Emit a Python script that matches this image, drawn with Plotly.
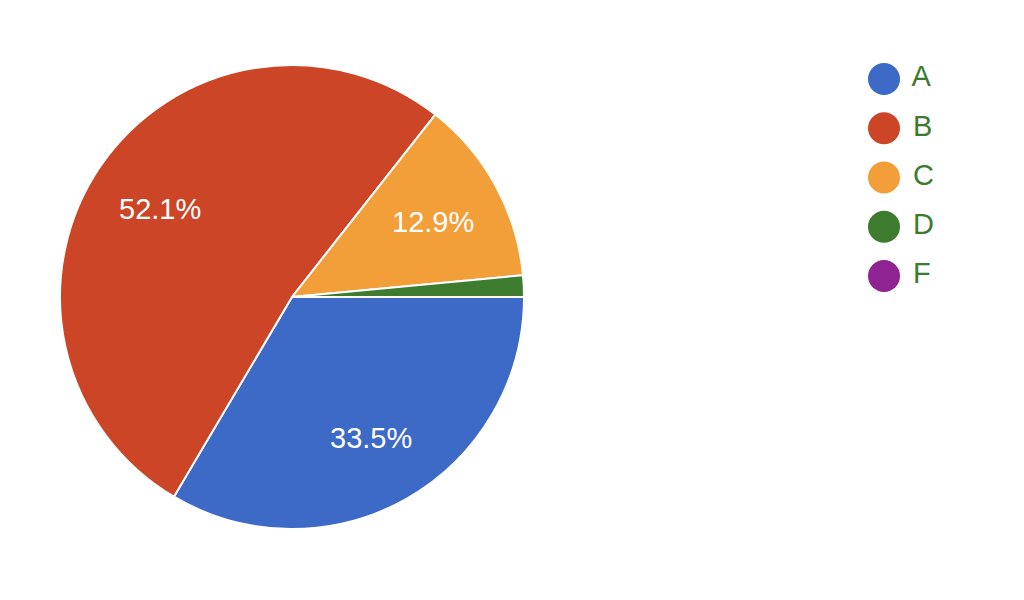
import math
import plotly.graph_objects as go

categories = ["A", "B", "C", "D", "F"]
values = [33.5, 52.1, 12.9, 1.5, 0.0]
colors = ["#3d69c7", "#cb4526", "#f29e39", "#3d7b2f", "#8e2391"]
legend_text_color = "#3d7b2f"

W, H = 1024, 600
# page body margin offset (8px) compensated in layout positions
OFF = 8
cx_px, cy_px, r_px = 292 - OFF, 297 - OFF, 232

pie_dom_x = [(cx_px - r_px) / W, (cx_px + r_px) / W]
pie_dom_y = [1 - (cy_px + r_px) / H, 1 - (cy_px - r_px) / H]

fig = go.Figure()

fig.add_trace(go.Pie(
    labels=categories,
    values=values,
    textinfo="none",
    marker=dict(colors=colors, line=dict(color="white", width=2)),
    sort=False,
    direction="clockwise",
    rotation=90,
    showlegend=False,
    hoverinfo="label+percent",
    domain=dict(x=pie_dom_x, y=pie_dom_y),
))

# percentage labels placed along each slice's mid-angle
total = sum(values)
cum = 0.0
label_frac = 0.69
for cat, v in zip(categories, values):
    mid = (cum + v / 2) / total * 2 * math.pi  # clockwise from 3 o'clock
    cum += v
    pct = v / total * 100
    if pct < 5:
        continue
    px = cx_px + label_frac * r_px * math.cos(mid)
    py = cy_px + label_frac * r_px * math.sin(mid)
    fig.add_annotation(
        x=px / W, y=1 - py / H, xref="paper", yref="paper",
        text=f"{pct:.1f}%", showarrow=False,
        xanchor="center", yanchor="middle", yshift=-2,
        font=dict(family="Liberation Sans, Arial", size=29, color="white"),
    )

# Legend drawn as a scatter of circles with labels
fig.add_trace(go.Scatter(
    x=[0] * len(categories),
    y=list(range(len(categories))),
    mode="markers+text",
    text=[" " + c for c in categories],
    textposition="middle right",
    textfont=dict(family="Liberation Sans, Arial", size=29, color=legend_text_color),
    marker=dict(size=32, color=colors, line=dict(width=0)),
    showlegend=False,
    hoverinfo="skip",
    cliponaxis=False,
))

leg_x0 = 884 - OFF
leg_y0 = 79 - OFF
leg_step = 49.25
fig.update_layout(
    width=W,
    height=H,
    margin=dict(l=0, r=0, t=0, b=0),
    paper_bgcolor="white",
    plot_bgcolor="rgba(0,0,0,0)",
    xaxis=dict(domain=[0, 1], range=[-leg_x0, W - leg_x0], visible=False, fixedrange=True),
    yaxis=dict(domain=[0, 1], range=[(H - leg_y0) / leg_step, -leg_y0 / leg_step],
               visible=False, fixedrange=True),
)

fig.write_html("out.html")
